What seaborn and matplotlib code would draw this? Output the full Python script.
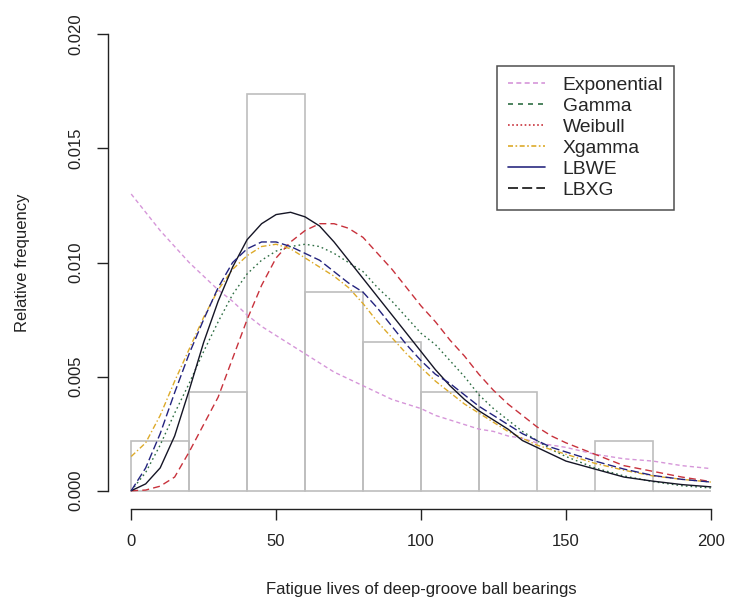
import matplotlib
matplotlib.use("Agg")
import matplotlib.pyplot as plt
import pandas as pd
import seaborn as sns
from matplotlib.lines import Line2D

# Fatigue lives (millions of revolutions) of 23 deep-groove ball bearings
lifetimes = [17.88, 28.92, 33.00, 41.52, 42.12, 45.60, 48.48, 51.84, 51.96,
             54.12, 55.56, 67.80, 68.64, 68.64, 68.88, 84.12, 93.12, 98.64,
             105.12, 105.84, 127.92, 128.04, 173.40]
bin_edges = [0, 20, 40, 60, 80, 100, 120, 140, 160, 180, 200]

# fitted densities
x_grid = [0, 5, 10, 15, 20, 25, 30, 35, 40, 45, 50, 55, 60, 65, 70, 75, 80, 85,
          90, 95, 100, 105, 110, 115, 120, 125, 130, 135, 140, 145, 150,
          160, 170, 180, 190, 200]
dens_exponential = [0.0130, 0.0122, 0.0114, 0.0107, 0.0100, 0.0094, 0.0088, 0.0083,
                    0.0077, 0.0072, 0.0068, 0.0064, 0.0060, 0.0056, 0.0052, 0.0049,
                    0.0046, 0.0043, 0.0040, 0.0038, 0.0036, 0.0033, 0.0031, 0.0029,
                    0.0027, 0.0026, 0.0024, 0.0023, 0.0021, 0.0020, 0.0019,
                    0.0016, 0.0014, 0.0013, 0.0011, 0.00097]
dens_gamma = [0.0, 0.0008, 0.0020, 0.0034, 0.0047, 0.0061, 0.0074, 0.0086,
              0.0095, 0.0101, 0.0105, 0.0107, 0.0108, 0.0107, 0.0104, 0.0100,
              0.0096, 0.0089, 0.0083, 0.0076, 0.0069, 0.0064, 0.0057, 0.0050,
              0.0042, 0.0036, 0.0031, 0.0026, 0.0022, 0.0018, 0.0015,
              0.0010, 0.00065, 0.00040, 0.00022, 0.00012]
dens_weibull = [0.0, 0.00003, 0.0002, 0.0006, 0.0017, 0.0029, 0.0041, 0.0058,
                0.0075, 0.0090, 0.0102, 0.0109, 0.0114, 0.0117, 0.0117, 0.0115,
                0.0111, 0.0104, 0.0097, 0.0089, 0.0081, 0.0074, 0.0066, 0.0059,
                0.0051, 0.0044, 0.0038, 0.0033, 0.0028, 0.0024, 0.0021,
                0.0016, 0.0011, 0.00085, 0.0006, 0.0004]
dens_xgamma = [0.0015, 0.0021, 0.0033, 0.0048, 0.0062, 0.0076, 0.0088, 0.0097,
               0.0103, 0.0107, 0.0108, 0.0106, 0.0102, 0.0098, 0.0094, 0.0089,
               0.0082, 0.0074, 0.0067, 0.0060, 0.0054, 0.0048, 0.0043, 0.0038,
               0.0034, 0.0030, 0.0026, 0.0023, 0.0020, 0.0018, 0.0016,
               0.0012, 0.0009, 0.00065, 0.0005, 0.00038]
dens_lbwe = [0.0, 0.0003, 0.0010, 0.0024, 0.0044, 0.0065, 0.0083, 0.0098,
             0.0110, 0.0117, 0.0121, 0.0122, 0.0120, 0.0116, 0.0109, 0.0101,
             0.0093, 0.0085, 0.0077, 0.0069, 0.0061, 0.0053, 0.0046, 0.0040,
             0.0035, 0.0031, 0.0027, 0.0022, 0.0019, 0.0016, 0.0013,
             0.00095, 0.0006, 0.00042, 0.00027, 0.00017]
dens_lbxg = [0.0, 0.0010, 0.0025, 0.0043, 0.0060, 0.0075, 0.0089, 0.0100,
             0.0106, 0.0109, 0.0109, 0.0107, 0.0104, 0.0101, 0.0096, 0.0091,
             0.0087, 0.0080, 0.0072, 0.0064, 0.0057, 0.0051, 0.0047, 0.0042,
             0.0037, 0.0033, 0.0029, 0.0025, 0.0022, 0.0019, 0.0017,
             0.0013, 0.00095, 0.00067, 0.0005, 0.00038]

model_names = ["Exponential", "Gamma", "Weibull", "Xgamma", "LBWE", "LBXG"]
y_ticks = [0.000, 0.005, 0.010, 0.015, 0.020]
x_ticks = [0, 50, 100, 150, 200]

curves = {
    "Exponential": dens_exponential,
    "Gamma": dens_gamma,
    "Weibull": dens_weibull,
    "Xgamma": dens_xgamma,
    "LBWE": dens_lbwe,
    "LBXG": dens_lbxg,
}
df = pd.concat(
    [pd.DataFrame({"x": x_grid, "density": v, "model": k}) for k, v in curves.items()],
    ignore_index=True,
)

# styles seen on the curves
curve_colors = {
    "Exponential": "#D696D9",
    "Gamma": "#2F6E44",
    "Weibull": "#C8323C",
    "Xgamma": "#DDAA2A",
    "LBWE": "#151525",
    "LBXG": "#23237E",
}
curve_dashes = {
    "Exponential": (3, 2.2),
    "Gamma": (1.2, 2.2),
    "Weibull": (5, 3),
    "Xgamma": (4, 1.8, 1, 1.8),
    "LBWE": "",
    "LBXG": (6, 2.5),
}

sns.set_style("ticks")
plt.rcParams["font.family"] = ["Liberation Sans", "DejaVu Sans"]

fig = plt.figure(figsize=(7.31, 6.05), dpi=100)
ax = fig.add_axes([108 / 731, 96 / 605, 626 / 731, 493 / 605])

sns.histplot(x=lifetimes, bins=bin_edges, stat="density", fill=False,
             color="#BEBEBE", linewidth=1.2, ax=ax)

sns.lineplot(data=df, x="x", y="density", hue="model", style="model",
             palette=curve_colors, dashes=curve_dashes, linewidth=1.0,
             legend=False, ax=ax, estimator=None, sort=True)

ax.set_xlim(-8, 208)
ax.set_ylim(-0.0008, 0.0208)
ax.set_xticks(x_ticks)
ax.set_xticklabels([str(t) for t in x_ticks])
ax.set_yticks(y_ticks)
ax.set_yticklabels([f"{t:.3f}" for t in y_ticks], rotation=90, va="center")

for side in ["top", "right"]:
    ax.spines[side].set_visible(False)
ax.spines["left"].set_bounds(0, 0.020)
ax.spines["bottom"].set_bounds(0, 200)
for side in ["left", "bottom"]:
    ax.spines[side].set_color("#222222")
    ax.spines[side].set_linewidth(1.0)
ax.tick_params(axis="both", direction="out", length=8, width=1.0,
               color="#222222", labelsize=12, labelcolor="#222222", pad=10)

ax.set_xlabel("Fatigue lives of deep-groove ball bearings", fontsize=12,
              color="#222222", va="center")
ax.xaxis.set_label_coords(0.5, -0.164)
ax.set_ylabel("Relative frequency", fontsize=12, color="#222222", va="center")
ax.yaxis.set_label_coords(-0.137, 0.5)

# legend as drawn in the chart
legend_styles = [
    ("Exponential", "#D696D9", (0, (3, 2))),
    ("Gamma", "#2F6E44", (0, (3, 3))),
    ("Weibull", "#C8323C", (0, (1, 1.5))),
    ("Xgamma", "#DDAA2A", (0, (3, 1.5, 1, 1.5))),
    ("LBWE", "#2A2A80", "-"),
    ("LBXG", "#111111", (0, (6, 2.5))),
]
handles = [Line2D([0], [0], color=c, linestyle=ls, linewidth=1.2, label=n)
           for n, c, ls in legend_styles]
leg = ax.legend(handles=handles, loc="upper left",
                bbox_to_anchor=(497 / 731, 1 - 66 / 605),
                bbox_transform=fig.transFigure, borderaxespad=0,
                fontsize=13.9, frameon=True, fancybox=False,
                handlelength=1.95, handletextpad=0.9, labelspacing=0.18,
                borderpad=0.55)
leg.get_frame().set_edgecolor("#222222")
leg.get_frame().set_linewidth(1.1)

fig.savefig("out.png", dpi=100)
